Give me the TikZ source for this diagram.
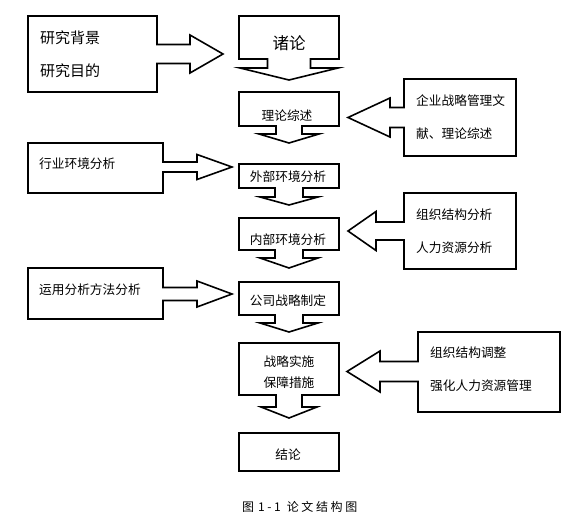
\documentclass[tikz,border=0pt]{standalone}
\usepackage{fontspec}
\setmainfont{Noto Sans CJK SC}
\usetikzlibrary{positioning}

\tikzset{
  blockline/.style={draw=black, line width=1.6pt, line join=miter},
  boxtext/.style={font=\fontsize{12.7}{15}\selectfont, inner sep=0pt},
}

% main column: box with a block arrow pointing down
% #1 top, #2 bottom, #3 shaft half width, #4 shaft end, #5 head half width, #6 tip
\newcommand{\downblock}[6]{%
  \draw[blockline] (239,#1) -- (339,#1) -- (339,#2) -- ({289+#3},#2) -- ({289+#3},#4)
    -- ({289+#5},#4) -- (289,#6) -- ({289-#5},#4) -- ({289-#3},#4) -- ({289-#3},#2)
    -- (239,#2) -- cycle;}
% side box with a block arrow pointing right
% #1 left, #2 right, #3 top, #4 bottom, #5 arrow centre, #6 shaft half, #7 shaft end, #8 head half, #9 tip
\newcommand{\rightblock}[9]{%
  \draw[blockline] (#1,#3) -- (#2,#3) -- (#2,{#5-#6}) -- (#7,{#5-#6}) -- (#7,{#5-#8})
    -- (#9,#5) -- (#7,{#5+#8}) -- (#7,{#5+#6}) -- (#2,{#5+#6}) -- (#2,#4) -- (#1,#4) -- cycle;}
% side box with a block arrow pointing left
\newcommand{\leftblock}[9]{%
  \draw[blockline] (#1,#3) -- (#2,#3) -- (#2,#4) -- (#1,#4) -- (#1,{#5+#6}) -- (#7,{#5+#6})
    -- (#7,{#5+#8}) -- (#9,#5) -- (#7,{#5-#8}) -- (#7,{#5-#6}) -- (#1,{#5-#6}) -- cycle;}
% spaced caption letters
\newcommand{\ck}{\kern2.6pt}

\begin{document}
\begin{tikzpicture}[x=1pt, y=-1pt]
    \useasboundingbox (0,0) rectangle (582,522);

    % Main column
    \downblock{16}{59}{21.5}{68}{49}{80}
    \downblock{92}{126}{13}{134}{30}{143}
    \downblock{164}{188}{14}{197}{29}{205}
    \downblock{218}{250}{14}{258}{29}{268}
    \downblock{282}{315}{14}{323}{29}{332}
    \downblock{343}{395}{13}{407}{28}{418}
    \draw[blockline] (239,433) rectangle (339,471);

    \node[boxtext, font=\fontsize{16.5}{18}\selectfont] (intro) at (289,43) {诸论};
    \node[boxtext] (theory) at (287,116) {理论综述};
    \node[boxtext] (outer) at (288,177) {外部环境分析};
    \node[boxtext] (inner) at (288,240) {内部环境分析};
    \node[boxtext] (plan) at (288,301) {公司战略制定};
    \node[boxtext] (act1) at (289,362) {战略实施};
    \node[boxtext] (act2) at (289,383) {保障措施};
    \node[boxtext] (concl) at (288,455) {结论};

    % Left inputs
    \rightblock{28}{157}{16}{92}{54}{9.5}{190}{19}{223}
    \rightblock{28}{163}{143}{193}{167}{5}{197}{12.5}{232}
    \rightblock{28}{163}{268}{319}{294}{6.5}{197}{13}{232}

    \node[boxtext, anchor=west, font=\fontsize{15}{17}\selectfont] (bg) at (40,38) {研究背景};
    \node[boxtext, anchor=west, font=\fontsize{15}{17}\selectfont] (aim) at (40,71) {研究目的};
    \node[boxtext, anchor=west] (ind) at (39,164) {行业环境分析};
    \node[boxtext, anchor=west] (meth) at (39,290) {运用分析方法分析};

    % Right inputs
    \leftblock{404}{516}{79}{156}{117.5}{10}{390}{19.5}{348}
    \leftblock{404}{516}{193}{269}{231}{9}{376}{19.5}{348}
    \leftblock{418}{560}{332}{412}{371.5}{10}{380}{20.5}{347}

    \node[boxtext, anchor=west] (lit1) at (416,101) {企业战略管理文};
    \node[boxtext, anchor=west] (lit2) at (416,134) {献、理论综述};
    \node[boxtext, anchor=west] (org) at (416,215) {组织结构分析};
    \node[boxtext, anchor=west] (hr) at (416,248) {人力资源分析};
    \node[boxtext, anchor=west] (adj) at (430,353) {组织结构调整};
    \node[boxtext, anchor=west] (hrm) at (430,386) {强化人力资源管理};

    % Caption
    \node[inner sep=0pt, anchor=west, font=\fontsize{12}{14}\selectfont] (cap) at (242,507)
        {图\kern4pt 1\ck-\ck1\kern6pt 论\ck 文\ck 结\ck 构\ck 图};
\end{tikzpicture}
\end{document}
